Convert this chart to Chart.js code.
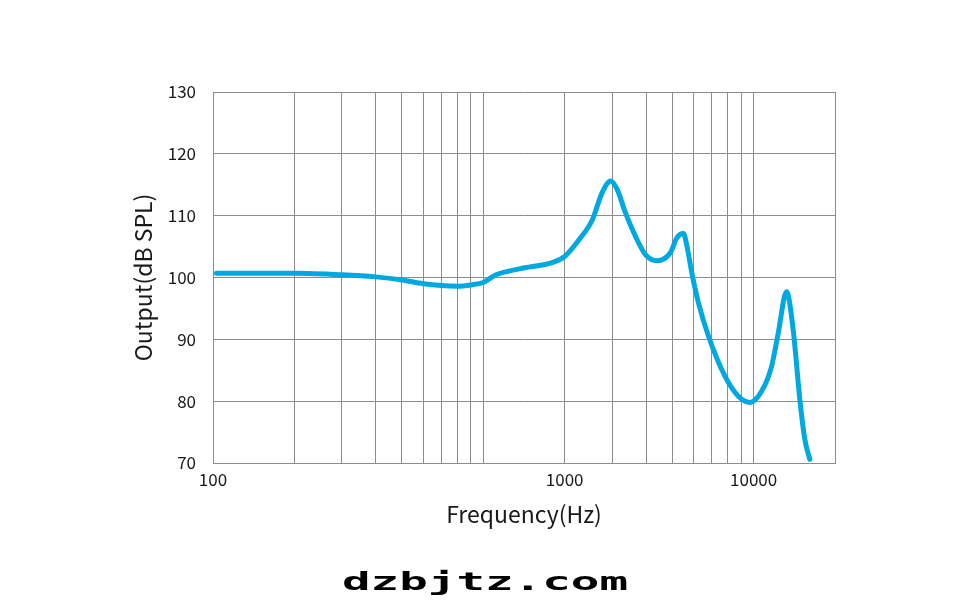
<!DOCTYPE html>
<html>
<head>
<meta charset="utf-8">
<script src="https://cdn.jsdelivr.net/npm/chart.js@4/dist/chart.umd.min.js"></script>
<style>
  body { margin: 0; background: #fff; }
</style>
</head>
<body>
<canvas id="fr" width="976" height="613"></canvas>
<script>
// frequency response
const freq = [103, 200, 300, 400, 500, 600, 700, 800, 900, 1000, 1110, 1360, 1820, 2000, 2260, 2530, 2750, 2960, 3130, 3360, 3660, 3980, 4400, 4920, 5200, 5500, 5670, 5910, 6250, 6810, 7840, 8780, 9700, 10700, 11650, 12330, 13240, 14000, 14830, 15470, 16140];
const spl = [100.7, 100.7, 100.45, 100.1, 99.6, 99.0, 98.7, 98.6, 98.8, 99.2, 100.4, 101.4, 102.5, 103.4, 106.1, 109.3, 113.7, 115.6, 114.2, 110.4, 106.6, 103.7, 102.7, 104.0, 106.4, 107.1, 105.0, 100.7, 95.9, 90.5, 84.0, 80.8, 79.8, 81.6, 85.6, 91.0, 97.7, 91.6, 80.2, 73.8, 70.6];

// grid lines on the x axis and the labels printed under them
const xGrid = [100, 200, 300, 400, 500, 600, 700, 800, 900, 1000, 2000, 3000, 4000, 5000, 6000, 7000, 8000, 9000, 10000, 20000];
const xLabels = { 100: '100', 2000: '1000', 10000: '10000' };

const gridColor = '#8c8c8c';
const textColor = '#1a1a1a';
const family = '"Noto Sans CJK SC", "Noto Sans", sans-serif';

const watermark = {
  id: 'watermark',
  afterDraw(chart) {
    const ctx = chart.ctx;
    ctx.save();
    ctx.translate(485, 590);
    ctx.scale(1.9, 1);
    ctx.font = 'bold 25px "DejaVu Sans Mono"';
    ctx.fillStyle = '#000';
    ctx.textAlign = 'center';
    ctx.textBaseline = 'alphabetic';
    ctx.fillText('dzbjtz.com', 0, 0);
    ctx.restore();
  }
};

new Chart(document.getElementById('fr'), {
  type: 'line',
  data: {
    datasets: [{
      data: freq.map((f, i) => ({ x: f, y: spl[i] })),
      borderColor: '#00a8e1',
      borderWidth: 5,
      borderCapStyle: 'round',
      pointRadius: 0,
      cubicInterpolationMode: 'monotone',
      fill: false
    }]
  },
  options: {
    responsive: false,
    animation: false,
    layout: { padding: { left: 120, top: 92, right: 141, bottom: 85 } },
    plugins: { legend: { display: false }, tooltip: { enabled: false } },
    scales: {
      x: {
        type: 'logarithmic',
        min: 100,
        max: 20000,
        afterBuildTicks: s => { s.ticks = xGrid.map(v => ({ value: v })); },
        afterFit: s => { s.height = 65; },
        grid: { color: gridColor, drawTicks: false },
        border: { color: gridColor },
        ticks: {
          autoSkip: false,
          maxRotation: 0,
          padding: 6,
          color: textColor,
          font: { family: family, size: 17 },
          callback: v => xLabels[v] || ''
        },
        title: {
          display: true,
          text: 'Frequency(Hz)',
          color: textColor,
          font: { family: family, size: 23 },
          padding: 0
        }
      },
      y: {
        min: 70,
        max: 130,
        afterFit: s => { s.width = 93; },
        grid: { color: gridColor, drawTicks: false },
        border: { color: gridColor },
        ticks: {
          stepSize: 10,
          padding: 17,
          color: textColor,
          font: { family: family, size: 17 }
        },
        title: {
          display: true,
          text: 'Output(dB SPL)',
          color: textColor,
          font: { family: family, size: 23 },
          padding: { top: 9 }
        }
      }
    }
  },
  plugins: [watermark]
});
</script>
</body>
</html>
